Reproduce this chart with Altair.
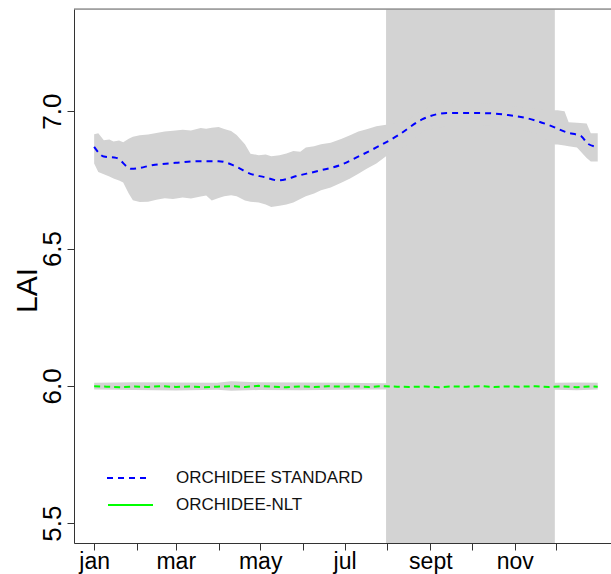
import altair as alt
import pandas as pd

# ---------------- data ----------------
month_days = [1, 32, 60, 91, 121, 152, 182, 213, 244, 274, 305, 335]
month_labels = ["jan", "", "mar", "", "may", "", "jul", "", "sept", "", "nov", ""]

shade_start = 212
shade_end = 334

std_days = [1, 8, 17, 28, 45, 60, 75, 91, 103, 114, 124, 134, 149, 165, 180, 190,
            205, 221, 238, 256, 282, 300, 315, 330, 343, 353, 358, 365]
std_vals = [6.870, 6.835, 6.830, 6.790, 6.805, 6.812, 6.818, 6.818, 6.800, 6.772, 6.760,
            6.748, 6.766, 6.785, 6.806, 6.830, 6.868, 6.913, 6.970, 6.993, 6.993, 6.986,
            6.973, 6.949, 6.922, 6.909, 6.881, 6.870]

rib_days = [1, 4, 8, 12, 15, 19, 22, 26, 29, 34, 40, 46, 52, 58, 65, 71, 78, 82, 86, 91,
            95, 100, 104, 110, 114, 120, 125, 129, 135, 140, 145, 150, 154, 160, 165, 172,
            180, 186, 192, 198, 205, 212, 225, 240, 260, 280, 300, 320, 334, 336, 341,
            344, 350, 357, 360, 365]
rib_upper = [6.916, 6.920, 6.894, 6.897, 6.890, 6.893, 6.887, 6.900, 6.907, 6.912, 6.915,
             6.921, 6.926, 6.929, 6.932, 6.930, 6.939, 6.936, 6.940, 6.942, 6.935, 6.928,
             6.913, 6.880, 6.845, 6.840, 6.842, 6.836, 6.840, 6.846, 6.855, 6.852, 6.868,
             6.872, 6.880, 6.885, 6.900, 6.912, 6.926, 6.934, 6.945, 6.951, 6.960, 7.010,
             7.030, 7.030, 7.020, 7.010, 7.003, 7.003, 7.000, 6.960, 6.958, 6.955, 6.920,
             6.920]
rib_lower = [6.810, 6.779, 6.770, 6.762, 6.755, 6.748, 6.740, 6.700, 6.676, 6.669, 6.670,
             6.678, 6.683, 6.680, 6.686, 6.682, 6.689, 6.693, 6.675, 6.684, 6.690, 6.694,
             6.690, 6.675, 6.670, 6.668, 6.660, 6.651, 6.656, 6.660, 6.668, 6.680, 6.690,
             6.700, 6.712, 6.722, 6.740, 6.755, 6.772, 6.790, 6.810, 6.836, 6.870, 6.930,
             6.950, 6.950, 6.945, 6.920, 6.879, 6.879, 6.875, 6.872, 6.868, 6.830, 6.817,
             6.817]

nlt_days = [1, 10, 20, 30, 40, 50, 60, 70, 80, 90, 100, 110, 120, 130, 140, 150, 160,
            170, 180, 190, 200, 210, 220, 230, 240, 250, 260, 270, 280, 290, 300, 310,
            320, 330, 340, 350, 360, 365]
nlt_vals = [5.999, 5.997, 5.995, 5.998, 5.996, 5.999, 5.996, 5.998, 5.995, 5.997, 5.999,
            5.996, 6.000, 5.997, 5.995, 5.998, 5.996, 5.999, 5.997, 5.998, 5.996, 5.999,
            5.997, 5.996, 5.998, 5.995, 5.998, 5.997, 5.999, 5.996, 5.998, 5.997, 5.999,
            5.996, 5.998, 5.995, 5.998, 5.997]

nlt_rib_days = [1, 30, 60, 90, 100, 120, 150, 180, 212, 334, 350, 365]
nlt_rib_upper = [6.011, 6.013, 6.012, 6.011, 6.017, 6.013, 6.012, 6.011, 6.010, 6.011, 6.012, 6.011]
nlt_rib_lower = [5.987, 5.985, 5.983, 5.986, 5.982, 5.985, 5.984, 5.986, 5.987, 5.986, 5.984, 5.987]

legend_labels = ["ORCHIDEE STANDARD", "ORCHIDEE-NLT"]

# ---------------- layout ----------------
W, H = 537, 534
FONT = "Liberation Sans"
GREY = "#D3D3D3"

xscale = alt.Scale(domain=[-13.56, 374.6], nice=False, zero=False)
yscale = alt.Scale(domain=[5.428, 7.372], nice=False, zero=False)

label_expr = " : ".join(
    f"datum.value == {d} ? '{l}'" for d, l in zip(month_days, month_labels)
) + " : ''"

xaxis = alt.Axis(values=month_days, labelExpr=label_expr, title=None, grid=False,
                 tickSize=7, tickColor="#333", domainColor="#333", labelFontSize=23,
                 labelFont=FONT, labelColor="black", labelPadding=18,
                 labelBaseline="alphabetic", labelFlush=False, labelOverlap=False)
yaxis = alt.Axis(values=[5.5, 6.0, 6.5, 7.0], format=".1f", title="LAI", grid=False,
                 tickSize=7, tickColor="#333", domainColor="#333", labelFontSize=26,
                 labelFont=FONT, labelColor="black", labelAngle=-90, labelAlign="center",
                 labelBaseline="alphabetic", labelPadding=7, labelFlush=False,
                 titleFont=FONT, titleFontSize=30, titleFontWeight="normal",
                 titleColor="black", titleAngle=-90, titleBaseline="alphabetic",
                 titleAlign="center", titleX=-38, titleY=281)

shade_df = pd.DataFrame({"x": [shade_start], "x2": [shade_end]})
shade = alt.Chart(shade_df).mark_rect(color=GREY).encode(
    x=alt.X("x:Q", scale=xscale, axis=xaxis),
    x2="x2:Q",
    y=alt.value(0),
    y2=alt.value(H),
)

rib_df = pd.DataFrame({"day": rib_days, "lo": rib_lower, "hi": rib_upper})
rib = alt.Chart(rib_df).mark_area(color=GREY, opacity=1).encode(
    x=alt.X("day:Q", scale=xscale),
    y=alt.Y("lo:Q", scale=yscale, axis=yaxis),
    y2="hi:Q",
)

nrib_df = pd.DataFrame({"day": nlt_rib_days, "lo": nlt_rib_lower, "hi": nlt_rib_upper})
nrib = alt.Chart(nrib_df).mark_area(color=GREY, opacity=1).encode(
    x=alt.X("day:Q", scale=xscale),
    y=alt.Y("lo:Q", scale=yscale),
    y2="hi:Q",
)

std_df = pd.DataFrame({"day": std_days, "v": std_vals})
std_line = alt.Chart(std_df).mark_line(color="#0000FF", strokeWidth=2,
                                       strokeDash=[6, 5], interpolate="monotone").encode(
    x=alt.X("day:Q", scale=xscale),
    y=alt.Y("v:Q", scale=yscale),
)

nlt_df = pd.DataFrame({"day": nlt_days, "v": nlt_vals})
nlt_line = alt.Chart(nlt_df).mark_line(color="#00FF00", strokeWidth=2,
                                       strokeDash=[6, 4]).encode(
    x=alt.X("day:Q", scale=xscale),
    y=alt.Y("v:Q", scale=yscale),
)

top_line = alt.Chart(pd.DataFrame({"a": [0]})).mark_rule(color="#666", strokeWidth=1).encode(
    x=alt.value(0), x2=alt.value(W), y=alt.value(0)
)

leg_df = pd.DataFrame({"label": legend_labels})
leg_std = alt.Chart(leg_df).transform_filter(
    alt.datum.label == legend_labels[0]).mark_rule(
    color="#0000FF", strokeWidth=2, strokeDash=[6, 5]).encode(
    x=alt.value(33), x2=alt.value(76), y=alt.value(469))
leg_nlt = alt.Chart(leg_df).transform_filter(
    alt.datum.label == legend_labels[1]).mark_rule(
    color="#00FF00", strokeWidth=2).encode(
    x=alt.value(34), x2=alt.value(79), y=alt.value(496))
leg_text1 = alt.Chart(leg_df).transform_filter(
    alt.datum.label == legend_labels[0]).mark_text(
    align="left", baseline="middle", font=FONT, fontSize=17, color="#111").encode(
    x=alt.value(102), y=alt.value(469), text="label:N")
leg_text2 = alt.Chart(leg_df).transform_filter(
    alt.datum.label == legend_labels[1]).mark_text(
    align="left", baseline="middle", font=FONT, fontSize=17, color="#111").encode(
    x=alt.value(102), y=alt.value(496), text="label:N")

chart = alt.layer(
    shade, rib, nrib, std_line, nlt_line, top_line,
    leg_std, leg_nlt, leg_text1, leg_text2
).properties(
    width=W, height=H,
    autosize=alt.AutoSizeParams(type="none"),
    padding={"left": 74, "top": 9, "right": 0, "bottom": 31},
).configure_view(stroke=None).configure(background="white")

chart.save("out.html", embed_options={"renderer": "svg", "actions": False})
